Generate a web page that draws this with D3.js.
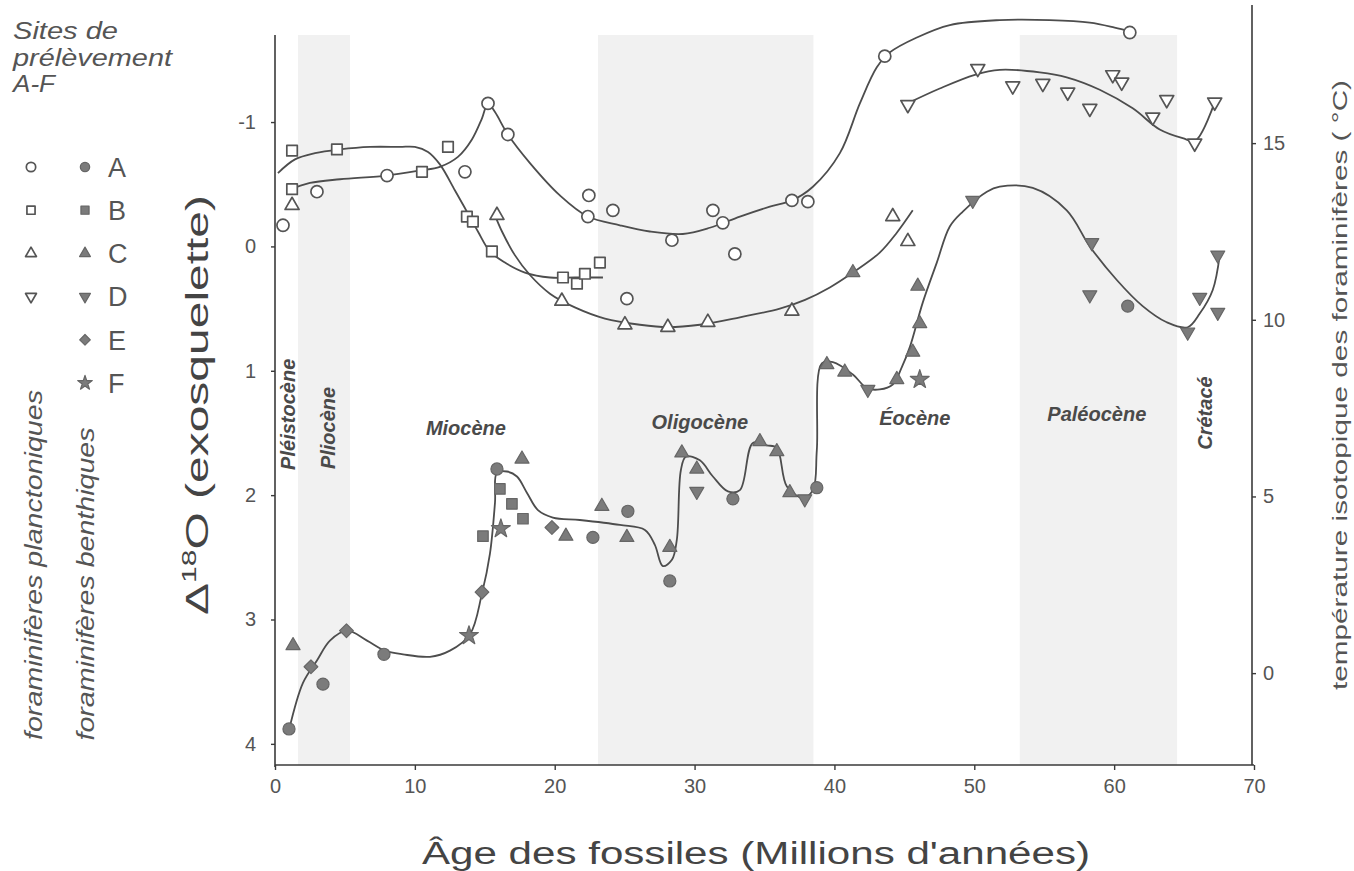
<!DOCTYPE html>
<html>
<head>
<meta charset="utf-8">
<style>
  body { margin: 0; background: #fff; }
  svg text { font-family: "Liberation Sans", Arial, sans-serif; }
</style>
</head>
<body>
<svg width="1354" height="871"></svg>
<script src="https://d3js.org/d3.v7.min.js"></script>
<script>
// ---- data (age in Ma, delta 18O) ----
var xTicks = [0, 10, 20, 30, 40, 50, 60, 70];
var yTicks = [-1, 0, 1, 2, 3, 4];
var tTicks = [0, 5, 10, 15];
var sites = ["A", "B", "C", "D", "E", "F"];

// grey epoch bands [from, to]
var bands = [[1.64, 5.36], [23.1, 38.5], [53.25, 64.5]];

// epoch names: [name, age, delta, vertical]
var epochs = [
  ["Pléistocène", 0.93, 1.35, true],
  ["Pliocène", 3.79, 1.46, true],
  ["Miocène", 13.65, 1.46, false],
  ["Oligocène", 30.38, 1.41, false],
  ["Éocène", 45.75, 1.38, false],
  ["Paléocène", 58.76, 1.35, false],
  ["Crétacé", 66.48, 1.34, true]
];

// planktonic (open markers)
var openA = [[0.57,-0.17],[3.00,-0.44],[8.01,-0.57],[13.58,-0.60],[15.23,-1.15],[16.65,-0.90],[22.44,-0.41],[22.37,-0.24],[24.16,-0.29],[25.16,0.42],[28.38,-0.05],[31.31,-0.29],[32.02,-0.19],[32.88,0.06],[36.96,-0.37],[38.10,-0.36],[43.60,-1.53],[61.12,-1.72]];
var openB = [[1.22,-0.77],[4.43,-0.78],[12.37,-0.80],[10.51,-0.60],[1.22,-0.46],[13.72,-0.24],[14.15,-0.20],[15.51,0.04],[20.59,0.25],[21.59,0.30],[22.16,0.22],[23.23,0.13]];
var openC = [[1.22,-0.33],[15.87,-0.25],[20.51,0.44],[25.02,0.63],[28.09,0.65],[30.95,0.61],[36.96,0.52],[44.17,-0.24],[45.25,-0.04]];
var openD = [[45.25,-1.14],[50.25,-1.43],[52.75,-1.29],[54.90,-1.31],[56.68,-1.24],[58.26,-1.11],[59.90,-1.38],[60.54,-1.32],[62.76,-1.04],[63.76,-1.18],[65.76,-0.83],[67.19,-1.16]];

// benthic (filled markers)
var fillA = [[1.00,3.88],[3.43,3.52],[7.79,3.28],[15.87,1.79],[22.73,2.34],[25.23,2.13],[28.23,2.69],[32.74,2.03],[38.74,1.94],[60.97,0.48]];
var fillB = [[14.87,2.33],[16.08,1.95],[16.94,2.07],[17.73,2.19]];
var fillC = [[1.29,3.21],[17.66,1.71],[20.80,2.33],[23.37,2.09],[25.16,2.34],[28.23,2.42],[29.09,1.66],[30.16,1.79],[34.67,1.57],[35.88,1.65],[36.81,1.98],[39.46,0.95],[40.74,1.01],[44.46,1.07],[45.60,0.85],[46.10,0.62],[45.96,0.32],[41.32,0.21]];
var fillD = [[30.16,1.97],[37.88,2.03],[42.39,1.15],[49.89,-0.37],[58.40,-0.03],[58.26,0.39],[65.26,0.69],[66.12,0.41],[67.41,0.53],[67.41,0.07]];
var fillE = [[2.57,3.38],[5.11,3.09],[14.80,2.78],[19.80,2.26]];
var fillF = [[13.87,3.13],[16.15,2.27],[46.10,1.07]];

// hand-drawn trend curves
var curveA = [[0.93,-0.45],[2.5,-0.51],[4.65,-0.54],[8.01,-0.57],[10.36,-0.61],[11.79,-0.64],[13.08,-0.72],[14.08,-0.86],[14.8,-1.03],[15.23,-1.15],[15.73,-1.08],[16.65,-0.90],[18.23,-0.67],[20.37,-0.41],[22.37,-0.24],[24.66,-0.17],[26.8,-0.12],[29.16,-0.10],[31.09,-0.15],[33.24,-0.24],[35.38,-0.32],[36.96,-0.37],[38.46,-0.48],[40.39,-0.75],[41.82,-1.15],[43.03,-1.44],[43.96,-1.56],[45.89,-1.68],[48.25,-1.78],[51.82,-1.82],[55.4,-1.82],[58.26,-1.80],[60.04,-1.76],[61.12,-1.73]];
var curveB = [[0.21,-0.59],[1.43,-0.70],[2.86,-0.75],[4.65,-0.78],[6.79,-0.80],[8.93,-0.80],[10.0,-0.80],[10.94,-0.76],[11.79,-0.66],[12.87,-0.45],[13.72,-0.28],[14.51,-0.12],[15.37,0.04],[16.44,0.13],[17.87,0.21],[19.66,0.25],[21.44,0.25],[23.45,0.25]];
var curveC = [[15.73,-0.25],[16.23,-0.12],[17.15,0.07],[18.23,0.23],[19.66,0.38],[21.44,0.49],[23.59,0.58],[26.09,0.63],[28.09,0.65],[30.38,0.63],[33.24,0.57],[36.1,0.50],[37.9,0.43],[39.67,0.33],[41.32,0.21],[43.24,0.05],[44.46,-0.11],[45.6,-0.29]];
var curveD = [[45.03,-1.14],[47.53,-1.27],[50.04,-1.38],[51.82,-1.42],[54.68,-1.40],[56.61,-1.36],[58.97,-1.26],[61.33,-1.11],[63.26,-0.94],[64.9,-0.87],[65.8,-0.85],[67.19,-1.16]];
var curveBen = [[1.00,3.89],[2.00,3.51],[3.00,3.33],[3.93,3.17],[5.15,3.09],[6.58,3.17],[7.86,3.25],[9.15,3.28],[11.08,3.30],[12.51,3.25],[13.94,3.12],[14.80,2.79],[15.37,2.47],[15.73,2.06],[15.87,1.82],[16.58,1.81],[17.30,1.85],[18.01,1.98],[18.80,2.12],[19.87,2.18],[21.80,2.20],[24.66,2.24],[26.45,2.28],[27.16,2.40],[27.73,2.57],[28.38,2.52],[28.73,2.36],[29.02,1.80],[29.38,1.69],[30.38,1.72],[31.31,1.85],[32.38,1.97],[33.24,1.96],[34.17,1.58],[35.17,1.60],[35.88,1.62],[36.60,1.93],[37.74,2.02],[38.46,1.96],[38.74,1.64],[39.10,0.94],[39.89,0.93],[41.32,1.03],[42.32,1.14],[43.24,1.15],[44.17,1.11],[44.82,0.97],[45.39,0.81],[46.32,0.45],[47.32,0.13],[48.25,-0.16],[49.18,-0.28],[50.9,-0.44],[51.82,-0.48],[54.18,-0.47],[56.61,-0.29],[58.26,0.00],[60.19,0.27],[62.04,0.48],[63.76,0.61],[65.26,0.65],[66.12,0.54],[67.05,0.35],[67.55,0.07]];

// ---- layout ----
var svg = d3.select("svg");
var ink = "#3a3a3a", grey = "#555";

var x = d3.scaleLinear().domain([0, 70]).range([275, 1254]);
var y = d3.scaleLinear().domain([-1.7, 4.17]).range([35, 765]);
var yT = d3.scaleLinear().domain([18.06, -2.6]).range([35, 765]);

svg.append("rect").attr("width", 1354).attr("height", 871).attr("fill", "#fff");

// bands
svg.append("g").selectAll("rect").data(bands).join("rect")
  .attr("x", function(d) { return x(d[0]); })
  .attr("width", function(d) { return x(d[1]) - x(d[0]); })
  .attr("y", y(-1.7)).attr("height", y(4.17) - y(-1.7))
  .attr("fill", "#f1f1f1");

// axes
var gL = svg.append("g").attr("transform", "translate(" + x(0) + ",0)")
  .call(d3.axisLeft(y).tickValues(yTicks).tickSize(4).tickPadding(15)
    .tickFormat(function(d) { return d < 0 ? "-" + Math.abs(d) : d; }));
gL.select(".domain").remove();
svg.append("line").attr("x1", x(0)).attr("x2", x(0)).attr("y1", y(-1.7)).attr("y2", y(4.17) + 2)
  .attr("stroke", ink).attr("stroke-width", 1.6);

var gB = svg.append("g").attr("transform", "translate(0," + y(4.17) + ")")
  .call(d3.axisBottom(x).tickValues(xTicks).tickSize(5).tickPadding(9));
gB.select(".domain").remove();
svg.append("line").attr("x1", x(0)).attr("x2", x(70)).attr("y1", y(4.17)).attr("y2", y(4.17))
  .attr("stroke", ink).attr("stroke-width", 1.6);

var gR = svg.append("g").attr("transform", "translate(" + (x(70) - 2) + ",0)")
  .call(d3.axisRight(yT).tickValues(tTicks).tickSize(4).tickPadding(7));
gR.select(".domain").remove();
svg.append("line").attr("x1", x(70) - 2).attr("x2", x(70) - 2).attr("y1", 5).attr("y2", y(4.17))
  .attr("stroke", ink).attr("stroke-width", 1.6);

svg.selectAll(".tick line").attr("stroke", ink).attr("stroke-width", 1.4);
svg.selectAll(".tick text").attr("font-size", 20).attr("fill", grey)
  .style("font-family", '"Liberation Sans", Arial, sans-serif');

// epoch labels
svg.append("g").selectAll("text").data(epochs).join("text")
  .attr("transform", function(d) {
    return "translate(" + x(d[1]) + "," + y(d[2]) + ")" + (d[3] ? " rotate(-90)" : "");
  })
  .attr("text-anchor", "middle").attr("dy", "0.35em")
  .attr("font-size", 20).attr("font-weight", "bold").attr("font-style", "italic")
  .attr("fill", "#4a4a4a")
  .text(function(d) { return d[0]; });

// curves
var line = d3.line().x(function(d) { return x(d[0]); }).y(function(d) { return y(d[1]); })
  .curve(d3.curveCatmullRom.alpha(0.5));
svg.append("g").selectAll("path").data([curveA, curveB, curveC, curveD, curveBen]).join("path")
  .attr("d", line).attr("fill", "none").attr("stroke", "#4d4d4d").attr("stroke-width", 1.8);

// markers
var shapes = {
  circle: [d3.symbolCircle, 115, 0],
  square: [d3.symbolSquare, 110, 0],
  triangle: [d3.symbolTriangle, 85, 0],
  inverted: [d3.symbolTriangle, 85, 180],
  diamond: [d3.symbolDiamond2 || d3.symbolDiamond, 120, 0],
  star: [d3.symbolStar, 110, 0]
};
var markerSets = [
  [openA, "circle", false], [openB, "square", false], [openC, "triangle", false], [openD, "inverted", false],
  [fillA, "circle", true], [fillB, "square", true], [fillC, "triangle", true], [fillD, "inverted", true],
  [fillE, "diamond", true], [fillF, "star", true]
];
function drawMarker(g, shape, filled, px, py, scale) {
  var s = shapes[shape];
  g.append("path")
    .attr("d", d3.symbol().type(s[0]).size(s[1] * (scale || 1))())
    .attr("transform", "translate(" + px + "," + py + ") rotate(" + s[2] + ")")
    .attr("fill", filled ? "#7b7b7b" : "#fff")
    .attr("stroke", filled ? "#666" : "#555")
    .attr("stroke-width", filled ? 1.2 : 1.7)
    .attr("stroke-linejoin", "round");
}
var gM = svg.append("g");
markerSets.forEach(function(m) {
  m[0].forEach(function(d) { drawMarker(gM, m[1], m[2], x(d[0]), y(d[1])); });
});

// legend
var leg = svg.append("g").attr("fill", grey).attr("font-style", "italic").attr("font-size", 24);
[["Sites de", 39, 105], ["prélèvement", 66, 159], ["A-F", 92, 42]].forEach(function(t) {
  leg.append("text").attr("x", 13).attr("y", t[1])
    .attr("textLength", t[2]).attr("lengthAdjust", "spacingAndGlyphs").text(t[0]);
});

var legOpen = ["circle", "square", "triangle", "inverted", null, null];
var legFill = ["circle", "square", "triangle", "inverted", "diamond", "star"];
var gLeg = svg.append("g");
sites.forEach(function(s, i) {
  var ly = 167 + i * 43.2;
  if (legOpen[i]) drawMarker(gLeg, legOpen[i], false, 31, ly, 0.6);
  drawMarker(gLeg, legFill[i], true, 85, ly, 0.6);
  gLeg.append("text").attr("x", 108).attr("y", ly).attr("dy", "0.36em")
    .attr("font-size", 27).attr("fill", grey).text(s);
});

svg.append("text").attr("transform", "translate(34,565) rotate(-90)").attr("text-anchor", "middle")
  .attr("dy", "0.35em").attr("font-size", 23).attr("font-style", "italic").attr("fill", grey)
  .attr("textLength", 350).attr("lengthAdjust", "spacingAndGlyphs")
  .text("foraminifères planctoniques");
svg.append("text").attr("transform", "translate(86,584) rotate(-90)").attr("text-anchor", "middle")
  .attr("dy", "0.35em").attr("font-size", 23).attr("font-style", "italic").attr("fill", grey)
  .attr("textLength", 313).attr("lengthAdjust", "spacingAndGlyphs")
  .text("foraminifères benthiques");

// axis titles
var tl = svg.append("text").attr("transform", "translate(197,405) rotate(-90)").attr("text-anchor", "middle")
  .attr("dy", "0.35em").attr("font-size", 32).attr("fill", "#444")
  .attr("textLength", 420).attr("lengthAdjust", "spacingAndGlyphs");
tl.append("tspan").text("Δ");
tl.append("tspan").attr("font-size", 20).attr("dy", "-0.6em").text("18");
tl.append("tspan").attr("dy", "0.38em").text("O (exosquelette)");

svg.append("text").attr("x", 756).attr("y", 864).attr("text-anchor", "middle")
  .attr("font-size", 31).attr("fill", "#444")
  .attr("textLength", 668).attr("lengthAdjust", "spacingAndGlyphs")
  .text("Âge des fossiles (Millions d'années)");

svg.append("text").attr("transform", "translate(1340,385) rotate(-90)").attr("text-anchor", "middle")
  .attr("dy", "0.35em").attr("font-size", 21).attr("fill", grey)
  .attr("textLength", 610).attr("lengthAdjust", "spacingAndGlyphs")
  .text("température isotopique des foraminifères ( °C)");
</script>
</body>
</html>
